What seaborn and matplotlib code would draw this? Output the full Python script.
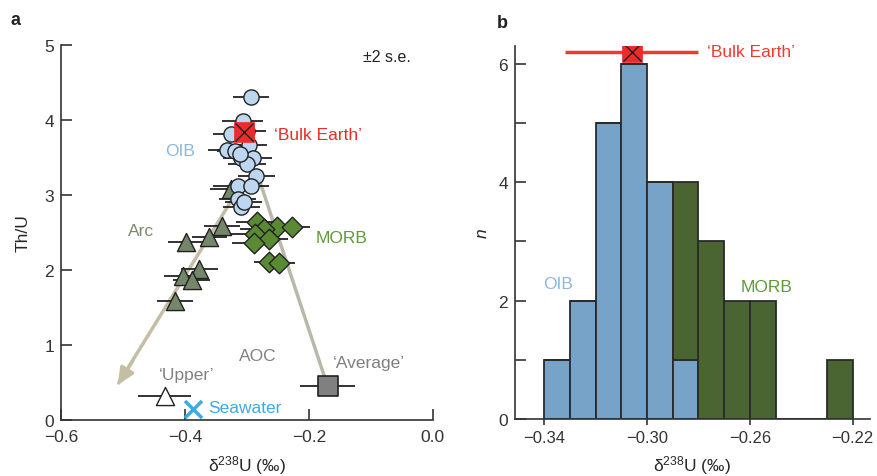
import matplotlib
matplotlib.use("Agg")
import matplotlib.pyplot as plt
import seaborn as sns
import pandas as pd

# panel a: Th/U versus delta238U
oib_x = [-0.294, -0.307, -0.325, -0.297, -0.333, -0.319, -0.309, -0.290, -0.300,
         -0.285, -0.315, -0.294, -0.315, -0.309, -0.300, -0.312, -0.305]
oib_y = [4.30, 3.99, 3.81, 3.66, 3.60, 3.59, 3.49, 3.49, 3.41,
         3.25, 3.12, 3.12, 2.94, 2.84, 3.85, 3.55, 2.90]
oib_err = [0.029, 0.033, 0.030, 0.030, 0.030, 0.030, 0.030, 0.030, 0.030,
           0.030, 0.040, 0.030, 0.030, 0.030, 0.030, 0.030, 0.030]

arc_x = [-0.325, -0.341, -0.361, -0.398, -0.377, -0.404, -0.389, -0.416]
arc_y = [3.08, 2.59, 2.44, 2.37, 2.01, 1.92, 1.87, 1.59]
arc_err = [0.035, 0.029, 0.028, 0.030, 0.030, 0.030, 0.030, 0.029]

morb_x = [-0.283, -0.252, -0.228, -0.272, -0.287, -0.264, -0.289, -0.264, -0.248]
morb_y = [2.64, 2.57, 2.57, 2.55, 2.48, 2.41, 2.36, 2.11, 2.09]
morb_err = [0.035, 0.030, 0.030, 0.040, 0.040, 0.030, 0.035, 0.025, 0.025]

bulk_x, bulk_y = -0.305, 3.84
upper_x, upper_y, upper_err = -0.433, 0.31, 0.043
avg_x, avg_y, avg_err = -0.170, 0.45, 0.044
sea_x, sea_y = -0.387, 0.14

# mixing lines (start, end)
arc_line = [(-0.312, 3.10), (-0.511, 0.43)]
aoc_line = [(-0.282, 3.25), (-0.170, 0.45)]

# panel b: histogram of delta238U
bin_edges = [-0.34, -0.33, -0.32, -0.31, -0.30, -0.29, -0.28, -0.27, -0.26, -0.25, -0.24, -0.23, -0.22]
bin_centres = [-0.335, -0.325, -0.315, -0.305, -0.295, -0.285, -0.275, -0.265, -0.255, -0.245, -0.235, -0.225]
oib_counts = [1, 2, 5, 6, 4, 1, 0, 0, 0, 0, 0, 0]
morb_counts = [0, 0, 0, 0, 0, 3, 3, 2, 2, 0, 0, 1]
bulk_mean, bulk_err = -0.306, 0.026

sns.set_style("ticks")
plt.rcParams['font.family'] = ['Liberation Sans', 'DejaVu Sans']
plt.rcParams['mathtext.fontset'] = 'custom'
plt.rcParams['mathtext.rm'] = 'Liberation Sans'
plt.rcParams['mathtext.it'] = 'Liberation Sans:italic'
plt.rcParams['axes.edgecolor'] = '#333333'
plt.rcParams['xtick.color'] = '#333333'
plt.rcParams['ytick.color'] = '#333333'
plt.rcParams['text.color'] = '#222222'

FS = 12.5
c_oib = '#bcd7ef'
c_arc = '#75876a'
c_morb = '#5b8a35'
c_red = '#ee2a2a'
c_line = '#c4bea4'

fig = plt.figure(figsize=(8.77, 4.77), dpi=100)
ax1 = fig.add_axes([0.0696, 0.118, 0.424, 0.7856])
ax2 = fig.add_axes([0.587, 0.1195, 0.4045, 0.781])

# ---- panel a ----
ax1.plot([arc_line[0][0], arc_line[1][0] + 0.004], [arc_line[0][1], arc_line[1][1] + 0.06],
         color=c_line, lw=2.5, zorder=1)
ax1.annotate("", xy=arc_line[1], xytext=(arc_line[1][0] + 0.03, arc_line[1][1] + 0.40),
             arrowprops=dict(arrowstyle="-|>,head_length=1.0,head_width=0.45",
                             color=c_line, lw=2.5), zorder=1)
ax1.plot([aoc_line[0][0], aoc_line[1][0]], [aoc_line[0][1], aoc_line[1][1]],
         color='#b9b9ab', lw=2.5, zorder=1)

ax1.errorbar(arc_x, arc_y, xerr=arc_err, fmt='none', ecolor='#222222', elinewidth=1.3, zorder=2)
ax1.errorbar(morb_x, morb_y, xerr=morb_err, fmt='none', ecolor='#222222', elinewidth=1.3, zorder=2)
ax1.errorbar(oib_x, oib_y, xerr=oib_err, fmt='none', ecolor='#222222', elinewidth=1.3, zorder=2)
ax1.errorbar([upper_x], [upper_y], xerr=[upper_err], fmt='none', ecolor='#222222', elinewidth=1.3, zorder=2)
ax1.errorbar([avg_x], [avg_y], xerr=[avg_err], fmt='none', ecolor='#222222', elinewidth=1.3, zorder=2)

sns.scatterplot(x=arc_x, y=arc_y, marker='^', s=170, color=c_arc, edgecolor='#222222',
                linewidth=1.0, ax=ax1, zorder=3)
sns.scatterplot(x=morb_x, y=morb_y, marker='D', s=110, color=c_morb, edgecolor='#222222',
                linewidth=1.0, ax=ax1, zorder=3)
sns.scatterplot(x=oib_x, y=oib_y, marker='o', s=120, color=c_oib, edgecolor='#222222',
                linewidth=1.0, ax=ax1, zorder=4)
sns.scatterplot(x=[bulk_x], y=[bulk_y], marker='s', s=200, color=c_red, edgecolor=c_red,
                linewidth=0.5, ax=ax1, zorder=5)
sns.scatterplot(x=[bulk_x], y=[bulk_y], marker='x', s=170, color='#222222',
                linewidth=1.0, ax=ax1, zorder=6)
sns.scatterplot(x=[upper_x], y=[upper_y], marker='^', s=170, color='white', edgecolor='#222222',
                linewidth=1.0, ax=ax1, zorder=3)
sns.scatterplot(x=[avg_x], y=[avg_y], marker='s', s=190, color='#808080', edgecolor='#222222',
                linewidth=1.2, ax=ax1, zorder=3)
sns.scatterplot(x=[sea_x], y=[sea_y], marker='x', s=150, color='#3fa9e5',
                linewidth=2.5, ax=ax1, zorder=3)

ax1.text(-0.408, 3.59, "OIB", color='#8cb8e0', fontsize=FS, ha='center', va='center')
ax1.text(-0.256, 3.81, "\u2018Bulk Earth\u2019", color=c_red, fontsize=FS, ha='left', va='center')
ax1.text(-0.471, 2.52, "Arc", color='#7d8a70', fontsize=FS, ha='center', va='center')
ax1.text(-0.189, 2.43, "MORB", color='#5e9a3c', fontsize=FS, ha='left', va='center')
ax1.text(-0.282, 0.86, "AOC", color='#808080', fontsize=FS, ha='center', va='center')
ax1.text(-0.161, 0.76, "\u2018Average\u2019", color='#808080', fontsize=FS, ha='left', va='center')
ax1.text(-0.397, 0.60, "\u2018Upper\u2019", color='#808080', fontsize=FS, ha='center', va='center')
ax1.text(-0.362, 0.165, "Seawater", color='#3fa9e5', fontsize=FS, ha='left', va='center')
ax1.text(-0.113, 4.84, "\u00b12 s.e.", color='#222222', fontsize=11.5, ha='left', va='center')

ax1.set_xlim(-0.6, 0.0)
ax1.set_ylim(0, 5)
ax1.set_xticks([-0.6, -0.4, -0.2, 0.0])
ax1.set_xticklabels(["\u22120.6", "\u22120.4", "\u22120.2", "0.0"])
ax1.set_yticks([0, 1, 2, 3, 4, 5])
ax1.tick_params(axis='both', direction='in', length=8, width=1.2, labelsize=FS, pad=5)
ax1.tick_params(axis='x', pad=7)
ax1.set_xlabel("δ$^{238}$U (‰)", fontsize=FS, labelpad=6)
ax1.set_ylabel("Th/U", fontsize=FS, labelpad=10)
sns.despine(ax=ax1)
for sp in ax1.spines.values():
    sp.set_linewidth(1.2)

# ---- panel b ----
hist_df = pd.DataFrame({
    "d238U": bin_centres + bin_centres,
    "n": oib_counts + morb_counts,
    "group": ["OIB"] * len(bin_centres) + ["MORB"] * len(bin_centres),
})
sns.histplot(data=hist_df, x="d238U", weights="n", hue="group", bins=bin_edges,
             multiple="stack", hue_order=["MORB", "OIB"],
             palette={"OIB": "#77a3c8", "MORB": "#4a6532"}, alpha=1,
             edgecolor='#2a2a2a', linewidth=1.3, legend=False, ax=ax2)

ax2.errorbar([bulk_mean], [6.2], xerr=[bulk_err], fmt='none', ecolor='#ee3b2e',
             elinewidth=2.5, zorder=4)
ax2.scatter([bulk_mean], [6.2], marker='s', s=200, color=c_red, edgecolor=c_red,
            linewidth=0.5, zorder=5)
ax2.scatter([bulk_mean], [6.2], marker='x', s=170, color='#222222', linewidth=1.0, zorder=6)
ax2.text(-0.2765, 6.2, "\u2018Bulk Earth\u2019", color='#ee3b2e', fontsize=FS, ha='left', va='center')
ax2.text(-0.3347, 2.28, "OIB", color='#8cb8e0', fontsize=FS, ha='center', va='center')
ax2.text(-0.2638, 2.23, "MORB", color='#5e9a3c', fontsize=FS, ha='left', va='center')

ax2.set_xlim(-0.3514, -0.2135)
ax2.set_ylim(0, 6.29)
ax2.set_xticks([-0.34, -0.30, -0.26, -0.22])
ax2.set_xticklabels(["\u22120.34", "\u22120.30", "\u22120.26", "\u22120.22"])
ax2.set_yticks([0, 1, 2, 3, 4, 5, 6])
ax2.set_yticklabels(["0", "", "2", "", "4", "", "6"])
ax2.tick_params(axis='y', direction='in', length=8, width=1.2, labelsize=FS, pad=5)
ax2.tick_params(axis='x', direction='out', length=4, width=1.2, labelsize=12, pad=4)
ax2.set_xlabel("δ$^{238}$U (‰)", fontsize=FS, labelpad=6)
ax2.set_ylabel("$n$", fontsize=FS, labelpad=6)
sns.despine(ax=ax2)
for sp in ax2.spines.values():
    sp.set_linewidth(1.2)

fig.text(0.012, 0.975, "a", fontsize=13, fontweight='bold', va='top')
fig.text(0.567, 0.968, "b", fontsize=13, fontweight='bold', va='top')

fig.savefig("out.png", dpi=100)
